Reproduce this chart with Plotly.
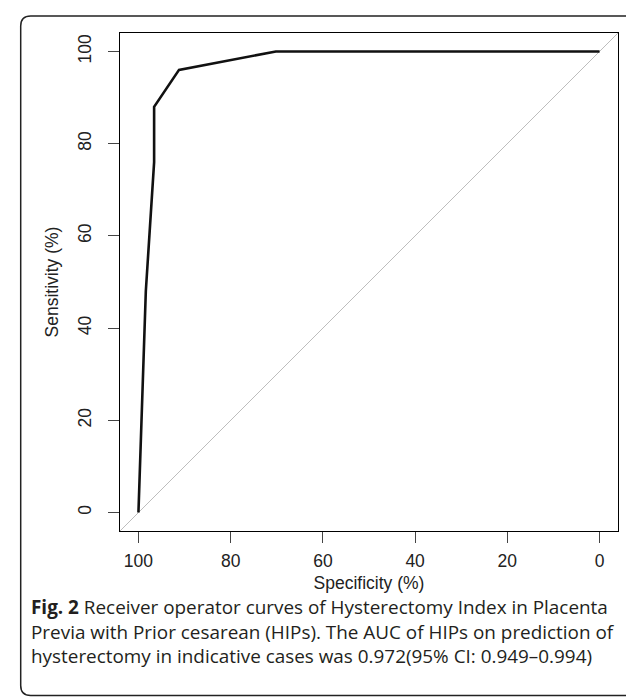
import plotly.graph_objects as go

# ROC curve data (specificity %, sensitivity %)
specificity = [100, 98.4, 96.6, 96.6, 91.2, 70.2, 0]
sensitivity = [0, 48, 76, 88, 96, 100, 100]

x_ticks = [100, 80, 60, 40, 20, 0]
y_ticks = [0, 20, 40, 60, 80, 100]

caption = ("<b>Fig. 2</b> Receiver operator curves of Hysterectomy Index in Placenta<br>"
           "Previa with Prior cesarean (HIPs). The AUC of HIPs on prediction of<br>"
           "hysterectomy in indicative cases was 0.972(95% CI: 0.949\u20130.994)")

W, H = 634, 697
L, R, T, B = 112.3, 610.3, 25.0, 523.3
pw, ph = R - L, B - T

def px(x):
    return (x - L) / pw

def py(y):
    return (B - y) / ph

fig = go.Figure()

# diagonal reference line
fig.add_trace(go.Scatter(x=[104, -4], y=[-4, 104], mode="lines",
                         line=dict(color="#bdbdbd", width=1), hoverinfo="skip",
                         showlegend=False))
fig.add_trace(go.Scatter(x=specificity, y=sensitivity, mode="lines",
                         line=dict(color="#111111", width=2.6), showlegend=False))

axis_font = dict(family="Liberation Sans, Arial, sans-serif", size=17.5, color="#222")

fig.update_xaxes(range=[104, -4], tickvals=x_ticks, ticktext=[str(v) for v in x_ticks],
                 ticks="outside", ticklen=11, tickcolor="#444", tickwidth=1,
                 ticklabelstandoff=3,
                 showline=True, mirror=True, linecolor="black", linewidth=1,
                 showgrid=False, zeroline=False, tickfont=axis_font,
                 title=dict(text="Specificity (%)", font=axis_font, standoff=6))
fig.update_yaxes(range=[-4, 104], tickvals=y_ticks, ticktext=[str(v) for v in y_ticks],
                 ticks="outside", ticklen=11, tickcolor="#444", tickwidth=1, tickangle=-90,
                 ticklabelstandoff=10,
                 showline=True, mirror=True, linecolor="black", linewidth=1,
                 showgrid=False, zeroline=False, tickfont=axis_font,
                 title=dict(text="Sensitivity (%)", font=axis_font, standoff=11))

# rounded outer frame
x0, y0, x1, y1, r = 13, 8, 633, 688, 10
path = (f"M {px(x0)},{py(y0 + r)} L {px(x0)},{py(y1 - r)} "
        f"Q {px(x0)},{py(y1)} {px(x0 + r)},{py(y1)} "
        f"L {px(x1 - r)},{py(y1)} Q {px(x1)},{py(y1)} {px(x1)},{py(y1 - r)} "
        f"L {px(x1)},{py(y0 + r)} Q {px(x1)},{py(y0)} {px(x1 - r)},{py(y0)} "
        f"L {px(x0 + r)},{py(y0)} Q {px(x0)},{py(y0)} {px(x0)},{py(y0 + r)} Z")
fig.add_shape(type="path", path=path, xref="paper", yref="paper",
              line=dict(color="#222", width=1.5), layer="below")

fig.add_annotation(text=caption, xref="paper", yref="paper",
                   x=px(21), y=py(584), xanchor="left", yanchor="top",
                   align="left", showarrow=False,
                   font=dict(family="Open Sans, sans-serif", size=18.9, color="#231f20"))

fig.update_layout(width=W, height=H, margin=dict(l=L, r=W - R, t=T, b=H - B),
                  plot_bgcolor="white", paper_bgcolor="white")

fig.write_html("out.html")
